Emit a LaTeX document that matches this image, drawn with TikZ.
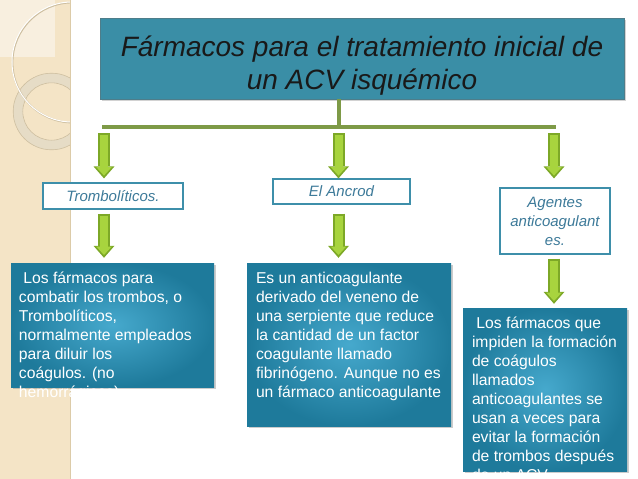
\documentclass[tikz,border=0pt]{standalone}
\usepackage{fontspec}
\setmainfont{Liberation Sans}
\usetikzlibrary{arrows.meta,positioning,shadows}
\definecolor{titlefill}{HTML}{3A8EA6}
\definecolor{titleline}{HTML}{4E7D8A}
\definecolor{blockline}{HTML}{3E8FAA}
\definecolor{blocktext}{HTML}{3D7A99}
\definecolor{infoin}{HTML}{46A9CD}
\definecolor{infoout}{HTML}{1E7A9B}
\definecolor{barcolor}{HTML}{7E9A47}
\definecolor{arrowfill}{HTML}{A8D43E}
\definecolor{arrowline}{HTML}{7DA827}
\definecolor{stripe}{HTML}{F4E4C6}
\definecolor{stripelight}{HTML}{F8EFDF}
\definecolor{stripeedge}{HTML}{DCCBA8}
\definecolor{ringc}{HTML}{E6DCC6}
\definecolor{ringedge}{HTML}{CDBE9F}

\begin{document}
\begin{tikzpicture}[x=1pt,y=-1pt]
				\tikzset{titlebox/.style={draw=titleline,fill=titlefill,line width=.8pt,align=center,
						font=\fontsize{28}{33}\selectfont\itshape,text=black!90,
						drop shadow={shadow xshift=1.5pt,shadow yshift=-1.5pt,opacity=.35}},
					block/.style={draw=blockline,fill=white,line width=1.2pt,align=center,
						font=\fontsize{15}{19}\selectfont\itshape,text=blocktext,
						drop shadow={shadow xshift=1.2pt,shadow yshift=-1.2pt,opacity=.2}},
					infobox/.style={inner sep=0,shading=radial,inner color=infoin,outer color=infoout,
						drop shadow={shadow xshift=2pt,shadow yshift=-2pt,opacity=.4}},
					infotext/.style={inner sep=0,align=left,text=white,
						font=\fontsize{15.7}{19}\selectfont},
					bar/.style={draw=barcolor,line width=4pt},
					greenarrow/.style 2 args={draw=arrowfill,line width=8pt,
						shorten <=#1+2pt,shorten >=#2+2.8pt,
						-{Triangle[width=15.5pt,length=8.5pt,line width=0pt]},
						preaction={draw=arrowline,line width=12pt,shorten <=#1,shorten >=#2,
							-{Triangle[width=21pt,length=12pt,line width=0pt]}}}}
				\useasboundingbox (0,0) rectangle (638,479);
				\fill[white] (0,0) rectangle (638,479);
				% stripe on the left
				\fill[stripe] (0,0) rectangle (70,479);
				\fill[stripelight] (0,0) rectangle (55,57);
				\begin{scope}
					\clip (0,0) rectangle (70,479);
					\draw[ringc,line width=9.5pt] (51.5,111.5) circle[radius=33.5pt];
					\draw[ringedge,line width=.6pt] (51.5,111.5) circle[radius=38.3pt]
						(51.5,111.5) circle[radius=28.7pt];
					\draw[ringedge,line width=1.6pt] (72.6,62.6) circle[radius=60pt];
					\draw[white,line width=1pt] (72,62) circle[radius=60pt];
				\end{scope}
				\draw[stripeedge,line width=.8pt] (70,0) -- (70,479);
				% nodes
				\node[titlebox,minimum width=524pt,minimum height=81pt] (title) at (362,58.5)
					{\rule{0pt}{35pt}Fármacos para el tratamiento inicial de\\un ACV isquémico};
				\node[block,minimum width=140pt,minimum height=26pt] (tromb) at (113,196) {Trombolíticos.};
				\node[block,minimum width=137pt,minimum height=25pt] (ancrod) at (341.5,191.5) {El Ancrod};
				\node[block,minimum width=110pt,minimum height=66pt] (agentes) at (555,221)
					{Agentes\\anticoagulant\\es.};
				\node[infobox,minimum width=203pt,minimum height=124pt] (trombinfo) at (112.5,325) {};
				\node[infobox,minimum width=204pt,minimum height=163pt] (ancrodinfo) at (349,344.5) {};
				\node[infobox,minimum width=164pt,minimum height=163pt] (agentesinfo) at (545,389.5) {};
				\node[infotext,anchor=north west] (trombtext) at ([xshift=8pt,yshift=-9pt]trombinfo.north west)
					{\ Los fármacos para\\combatir los trombos, o\\Trombolíticos,\\normalmente empleados\\para diluir los\\coágulos. (no\\hemorrágicos).};
				\node[infotext,anchor=north west] (ancrodtext) at ([xshift=9pt,yshift=-9pt]ancrodinfo.north west)
					{Es un anticoagulante\\derivado del veneno de\\una serpiente que reduce\\la cantidad de un factor\\coagulante llamado\\fibrinógeno. Aunque no es\\un fármaco anticoagulante};
				\node[infotext,anchor=north west] (agentestext) at ([xshift=9pt,yshift=-9pt]agentesinfo.north west)
					{\ Los fármacos que\\impiden la formación\\de coágulos\\llamados\\anticoagulantes se\\usan a veces para\\evitar la formación\\de trombos después\\de un ACV.};
				% connectors
				\coordinate (barL) at (102,127);
				\coordinate (barR) at (556,127);
				\coordinate (j1) at (104,127);
				\coordinate (j2) at (338.5,127);
				\coordinate (j3) at (554,127);
				\draw[bar] (j2 |- title.south) -- (j2);
				\draw[bar] (barL) -- (barR);
				\draw[greenarrow={6pt}{4pt}] (j1) -- (j1 |- tromb.north);
				\draw[greenarrow={6pt}{0pt}] (j2) -- (j2 |- ancrod.north);
				\draw[greenarrow={6pt}{9pt}] (j3) -- (j3 |- agentes.north);
				\draw[greenarrow={4pt}{5pt}] (j1 |- tromb.south) -- (j1 |- trombinfo.north);
				\draw[greenarrow={9pt}{5pt}] (j2 |- ancrod.south) -- (j2 |- ancrodinfo.north);
				\draw[greenarrow={4pt}{4pt}] (j3 |- agentes.south) -- (j3 |- agentesinfo.north);
			\end{tikzpicture}
\end{document}
